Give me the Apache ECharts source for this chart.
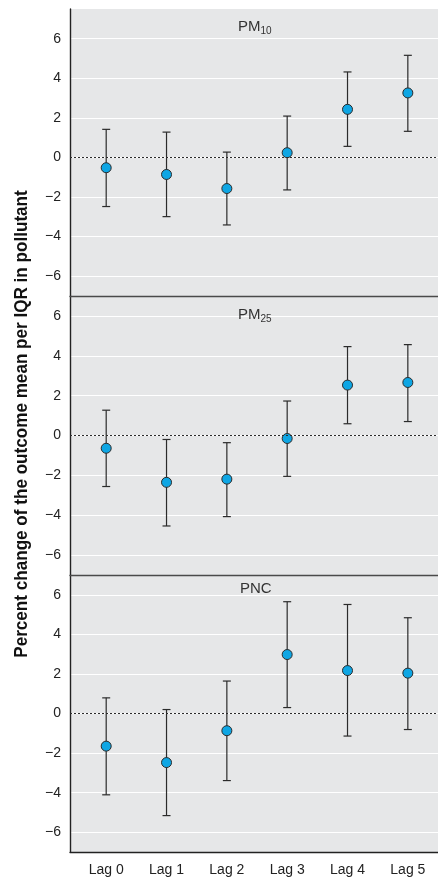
<!DOCTYPE html>
<html>
<head>
<meta charset="utf-8">
<script src="https://cdn.jsdelivr.net/npm/echarts@6/dist/echarts.min.js"></script>
<style>
html, body { margin: 0; padding: 0; background: #fff; }
#chart { width: 438px; height: 878px; }
</style>
</head>
<body>
<div id="chart"></div>
<script>
var lags = ['Lag 0', 'Lag 1', 'Lag 2', 'Lag 3', 'Lag 4', 'Lag 5'];
var yTicks = [-6, -4, -2, 0, 2, 4, 6];

// estimates and 95% CI per pollutant
var pm10Est = [-0.52, -0.86, -1.57, 0.24, 2.43, 3.26];
var pm10Low = [-2.48, -2.99, -3.41, -1.64, 0.56, 1.32];
var pm10High = [1.42, 1.28, 0.27, 2.09, 4.32, 5.16];

var pm25Est = [-0.64, -2.35, -2.19, -0.15, 2.53, 2.66];
var pm25Low = [-2.56, -4.54, -4.07, -2.05, 0.59, 0.70];
var pm25High = [1.27, -0.20, -0.36, 1.73, 4.46, 4.56];

var pncEst = [-1.65, -2.48, -0.87, 2.98, 2.17, 2.04];
var pncLow = [-4.11, -5.16, -3.39, 0.30, -1.14, -0.81];
var pncHigh = [0.79, 0.20, 1.64, 5.65, 5.51, 4.84];

var FONT = '"Liberation Sans Narrow", "Liberation Sans", sans-serif';

var chartDom = document.getElementById('chart');
var myChart = echarts.init(chartDom);
var option;

function renderBar(params, api) {
  var x = api.value(0);
  var lo = api.coord([x, api.value(1)]);
  var hi = api.coord([x, api.value(2)]);
  var w = 4;
  var st = { stroke: '#2b2b2b', lineWidth: 1.2 };
  return {
    type: 'group',
    children: [
      { type: 'line', shape: { x1: lo[0], y1: lo[1], x2: hi[0], y2: hi[1] }, style: st },
      { type: 'line', shape: { x1: lo[0] - w, y1: lo[1], x2: lo[0] + w, y2: lo[1] }, style: st },
      { type: 'line', shape: { x1: hi[0] - w, y1: hi[1], x2: hi[0] + w, y2: hi[1] }, style: st }
    ]
  };
}

var panels = [
  { est: pm10Est, low: pm10Low, high: pm10High, top: 9, height: 287, max: 7.5 },
  { est: pm25Est, low: pm25Low, high: pm25High, top: 296, height: 279, max: 7 },
  { est: pncEst, low: pncLow, high: pncHigh, top: 575, height: 277, max: 7 }
];

var grids = [], xAxes = [], yAxes = [], series = [];
panels.forEach(function (p, i) {
  var last = i === panels.length - 1;
  grids.push({
    left: 70, right: 0, top: p.top, height: p.height,
    show: true, backgroundColor: '#e6e7e8', borderWidth: 0
  });
  xAxes.push({
    type: 'value', gridIndex: i, min: -0.6, max: 5.5,
    splitLine: { show: false },
    axisTick: { show: false },
    axisLine: { show: true, onZero: false, lineStyle: { color: last ? '#222' : '#4a4a4a', width: 1.4 } },
    axisLabel: {
      show: last, customValues: [0, 1, 2, 3, 4, 5], margin: 11,
      color: '#222', fontFamily: FONT, fontSize: 14,
      formatter: function (v) { return lags[Math.round(v)]; }
    }
  });
  yAxes.push({
    type: 'value', gridIndex: i, min: -7, max: p.max,
    axisLine: { show: true, onZero: false, lineStyle: { color: '#222', width: 1.4 } },
    axisTick: { show: false, customValues: yTicks },
    splitLine: { show: true, lineStyle: { color: '#ffffff', width: 1.2 } },
    axisLabel: {
      customValues: yTicks, margin: 9, color: '#222', fontFamily: FONT, fontSize: 14,
      formatter: function (v) { return String(v).replace('-', '\u2212'); }
    }
  });
  series.push({
    type: 'custom', xAxisIndex: i, yAxisIndex: i,
    renderItem: renderBar,
    encode: { x: 0, y: [1, 2] },
    data: p.est.map(function (v, j) { return [j, p.low[j], p.high[j]]; }),
    z: 3
  });
  series.push({
    type: 'scatter', xAxisIndex: i, yAxisIndex: i,
    symbolSize: 10,
    itemStyle: { color: '#0ea6e4', borderColor: '#2b2b2b', borderWidth: 1, opacity: 1 },
    data: p.est.map(function (v, j) { return [j, v]; }),
    markLine: {
      silent: true, symbol: 'none', label: { show: false },
      lineStyle: { color: '#2b2b2b', type: [2, 2], width: 1.2 },
      data: [{ yAxis: 0 }]
    },
    z: 4
  });
});

var titleStyle = {
  color: '#333', fontFamily: FONT, fontSize: 15, fontWeight: 'normal',
  rich: {
    m: { fontFamily: FONT, fontSize: 15, fontWeight: 'normal', color: '#333' },
    s: { fontFamily: FONT, fontSize: 10, fontWeight: 'normal', color: '#333', padding: [9, 0, 0, 0] }
  }
};

option = {
  animation: false,
  title: [
    { text: '{m|PM}{s|10}', left: 238, top: 17, padding: 0, textStyle: titleStyle },
    { text: '{m|PM}{s|25}', left: 238, top: 305, padding: 0, textStyle: titleStyle },
    { text: '{m|PNC}', left: 240, top: 581, padding: 0, textStyle: titleStyle }
  ],
  grid: grids,
  xAxis: xAxes,
  yAxis: yAxes,
  series: series,
  graphic: [{
    type: 'text', x: 22, y: 424, rotation: Math.PI / 2, scaleX: 0.9,
    style: {
      text: 'Percent change of the outcome mean per IQR in pollutant',
      font: 'bold 19px ' + FONT, fill: '#111',
      textAlign: 'center', textVerticalAlign: 'middle'
    }
  }]
};

option && myChart.setOption(option);
</script>
</body>
</html>
